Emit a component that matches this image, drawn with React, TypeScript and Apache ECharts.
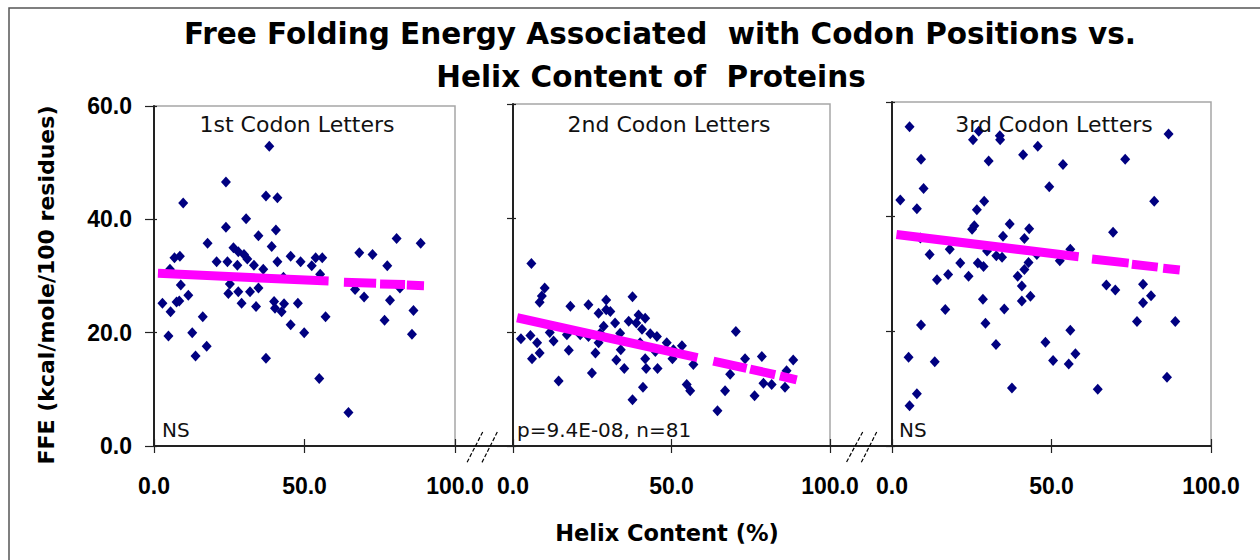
import React, { useEffect, useRef } from "react";
import * as echarts from "echarts";

const titleLines = [
  "Free Folding Energy Associated  with Codon Positions vs.",
  "Helix Content of  Proteins",
];
const panelTitles = ["1st Codon Letters", "2nd Codon Letters", "3rd Codon Letters"];
const panelNotes = ["NS", "p=9.4E-08, n=81", "NS"];
const xAxisTitle = "Helix Content (%)";
const yAxisTitle = "FFE (kcal/mole/100 residues)";
const xRange = [0, 100, 50];
const yRange = [0, 60, 20];

// [helix content %, FFE]
const firstCodon = [
  [38.3, 52.9], [23.9, 46.6], [9.7, 42.9], [37.2, 44.1], [41.0, 43.8], [30.6, 40.1],
  [23.9, 38.6], [40.5, 38.1], [34.7, 37.1], [17.8, 35.8], [39.1, 35.2], [80.6, 36.6],
  [88.6, 35.8], [26.4, 35.0], [28.0, 34.3], [29.9, 33.8], [6.8, 33.2], [8.6, 33.5],
  [68.2, 34.1], [72.6, 33.8], [45.4, 33.5], [20.8, 32.5], [24.4, 32.5], [41.0, 32.5],
  [48.7, 32.5], [53.7, 33.2], [55.9, 33.2], [27.7, 31.9], [33.2, 31.9], [36.3, 31.2],
  [52.4, 31.8], [77.5, 31.8], [5.3, 31.2], [55.2, 30.3], [25.2, 28.6], [34.7, 27.9],
  [8.9, 28.4], [31.9, 27.2], [24.7, 26.9], [28.0, 27.2], [66.8, 27.6], [81.7, 27.9],
  [11.4, 26.6], [69.8, 26.3], [7.5, 25.4], [8.4, 25.6], [2.8, 25.2], [29.1, 25.2],
  [39.9, 25.5], [43.2, 25.1], [47.8, 25.2], [78.4, 25.7], [33.9, 24.6], [40.2, 24.3],
  [42.4, 23.7], [5.5, 23.7], [86.2, 23.9], [16.2, 22.8], [57.0, 22.8], [76.6, 22.2],
  [45.4, 21.4], [12.7, 20.0], [4.8, 19.4], [49.9, 20.0], [85.7, 19.7], [17.5, 17.6],
  [13.8, 15.9], [37.2, 15.5], [54.9, 11.9], [64.6, 5.9], [31.0, 33.0], [43.0, 29.8],
];

const secondCodon = [
  [5.8, 32.0], [10.0, 27.7], [9.1, 26.3], [8.4, 25.2], [18.1, 24.5], [23.8, 24.8],
  [29.4, 25.6], [27.0, 23.3], [29.4, 23.9], [30.7, 23.6], [37.7, 26.2], [39.6, 23.0],
  [41.7, 22.4], [36.5, 21.9], [38.9, 21.6], [40.7, 20.5], [43.3, 19.7], [32.2, 21.6],
  [28.6, 21.0], [33.8, 19.8], [11.6, 19.9], [2.5, 18.8], [5.5, 19.4], [7.6, 18.1],
  [8.4, 16.3], [6.0, 15.3], [12.8, 18.4], [17.0, 19.5], [21.2, 19.5], [26.0, 16.3],
  [17.6, 16.8], [27.0, 18.1], [34.0, 16.9], [32.6, 15.1], [35.1, 13.6], [41.7, 15.3],
  [42.0, 13.6], [45.6, 13.6], [44.9, 16.6], [48.5, 18.1], [53.3, 17.6], [50.3, 15.3],
  [56.9, 14.3], [54.8, 10.8], [55.9, 9.7], [41.0, 10.3], [37.7, 8.1], [14.4, 11.4],
  [24.9, 12.8], [64.5, 6.2], [66.9, 9.7], [68.5, 12.6], [70.3, 20.1], [73.2, 15.3],
  [76.2, 8.8], [78.5, 15.7], [79.0, 11.0], [81.6, 10.8], [86.3, 13.2], [85.8, 10.3],
  [88.4, 15.1], [23.8, 19.2], [45.4, 19.2], [40.1, 18.1], [27.5, 19.8], [50.6, 16.9],
];

const thirdCodon = [
  [5.5, 55.7], [27.2, 54.9], [25.4, 53.4], [33.8, 54.1], [33.9, 53.4], [45.7, 52.3],
  [41.1, 50.8], [86.7, 54.4], [9.1, 50.0], [30.3, 49.7], [53.6, 49.1], [73.1, 50.0],
  [9.9, 44.9], [49.3, 45.2], [2.6, 42.9], [7.8, 41.4], [28.9, 42.7], [26.6, 41.2],
  [82.2, 42.7], [25.8, 38.4], [25.1, 37.8], [36.9, 38.7], [43.0, 37.9], [34.8, 36.6],
  [41.5, 36.2], [69.3, 37.3], [8.9, 36.3], [18.1, 34.3], [11.8, 33.4], [29.8, 34.0],
  [32.7, 33.2], [34.5, 32.9], [45.4, 33.4], [55.9, 34.3], [52.6, 32.3], [21.4, 31.9],
  [26.9, 31.9], [28.7, 31.3], [42.8, 32.0], [41.5, 30.8], [24.0, 29.6], [17.6, 29.9],
  [14.1, 29.0], [39.4, 29.6], [40.7, 27.9], [67.2, 28.1], [70.0, 27.2], [78.7, 28.2],
  [81.2, 26.2], [78.7, 25.0], [28.5, 25.6], [40.7, 25.3], [43.4, 26.1], [16.7, 23.8],
  [35.2, 23.9], [29.3, 21.4], [9.1, 21.1], [55.9, 20.2], [76.8, 21.7], [88.8, 21.7],
  [32.6, 17.7], [48.1, 18.1], [5.2, 15.5], [13.4, 14.7], [50.5, 14.9], [55.4, 14.3],
  [57.5, 16.1], [37.6, 10.1], [64.5, 9.9], [86.2, 12.0], [7.8, 9.1], [5.5, 7.0],
];

// trend-line pieces: [[x0, y0], [x1, y1]]
const firstTrend = [
  [[1.3, 30.5], [58.0, 29.1]],
  [[63.1, 28.9], [73.8, 28.7]],
  [[75.1, 28.6], [83.4, 28.5]],
  [[84.0, 28.4], [89.7, 28.3]],
];
const secondTrend = [
  [[1.3, 22.5], [58.2, 15.5]],
  [[63.2, 14.9], [73.7, 13.6]],
  [[74.8, 13.5], [82.7, 12.5]],
  [[84.2, 12.3], [89.5, 11.6]],
];
const thirdTrend = [
  [[1.4, 36.9], [58.5, 33.0]],
  [[62.7, 32.6], [74.2, 31.9]],
  [[75.2, 31.7], [83.3, 31.2]],
  [[85.0, 31.0], [90.2, 30.7]],
];

const panelData = [firstCodon, secondCodon, thirdCodon];
const panelTrends = [firstTrend, secondTrend, thirdTrend];

const grids = [
  { left: 154, top: 106, width: 301, height: 340 },
  { left: 513, top: 104, width: 317, height: 342 },
  { left: 892, top: 102, width: 319, height: 344 },
];
const titleX = [297, 669, 1054];
const noteX = [162, 517, 899];

export default function App() {
  const ref = useRef<HTMLDivElement>(null);
  useEffect(() => {
    if (!ref.current) return;
    const chart = echarts.init(ref.current, null, { renderer: "svg" });
    const axisColor = "#222";
    const xAxis: any[] = [];
    const yAxis: any[] = [];
    const series: any[] = [];
    grids.forEach((g, i) => {
      xAxis.push({
        gridIndex: i, type: "value", min: xRange[0], max: xRange[1], interval: xRange[2],
        position: "bottom",
        axisLine: { show: true, lineStyle: { color: axisColor, width: 2 } },
        axisTick: { show: true, inside: false, length: 7, lineStyle: { color: axisColor, width: 1.2 } },
        axisLabel: {
          show: true, showMinLabel: true, showMaxLabel: true,
          formatter: (v: number) => v.toFixed(1),
          fontFamily: "Liberation Sans", fontWeight: "bold", fontSize: 23, color: "#000", margin: 28,
        },
        splitLine: { show: false },
      });
      xAxis.push({
        gridIndex: i, type: "value", min: xRange[0], max: xRange[1], interval: xRange[2],
        position: "bottom",
        axisLine: { show: false },
        axisTick: { show: true, inside: true, length: 7, lineStyle: { color: axisColor, width: 1.2 } },
        axisLabel: { show: false },
        splitLine: { show: false },
      });
      yAxis.push({
        gridIndex: i, type: "value", min: yRange[0], max: yRange[1], interval: yRange[2],
        position: "left",
        axisLine: { show: true, lineStyle: { color: axisColor, width: 2 } },
        axisTick: { show: true, inside: false, length: i === 0 ? 9 : 6, lineStyle: { color: axisColor, width: 1.2 } },
        axisLabel: {
          show: i === 0, showMinLabel: true, showMaxLabel: true,
          formatter: (v: number) => v.toFixed(1),
          fontFamily: "Liberation Sans", fontWeight: "bold", fontSize: 23, color: "#000", margin: 22,
        },
        splitLine: { show: false },
      });
      yAxis.push({
        gridIndex: i, type: "value", min: yRange[0], max: yRange[1], interval: yRange[2],
        position: "left",
        axisLine: { show: false },
        axisTick: { show: true, inside: true, length: 3, lineStyle: { color: axisColor, width: 1.2 } },
        axisLabel: { show: false },
        splitLine: { show: false },
      });
      series.push({
        type: "scatter", xAxisIndex: 2 * i, yAxisIndex: 2 * i,
        symbol: "diamond", symbolSize: [10, 11],
        itemStyle: { color: "#000080", opacity: 1 },
        data: panelData[i], z: 3,
      });
      panelTrends[i].forEach((seg) => {
        series.push({
          type: "line", xAxisIndex: 2 * i, yAxisIndex: 2 * i,
          symbol: "none", data: seg, z: 4,
          lineStyle: { color: "#FF00FF", width: 9, cap: "butt", opacity: 1 },
        });
      });
    });

    const dashStyle = { stroke: "#000", lineWidth: 1.2, lineDash: [4, 2] };
    const graphic: any[] = [
      { type: "rect", shape: { x: 9, y: 8, width: 1400, height: 700 }, style: { fill: "none", stroke: "#555", lineWidth: 1.5 }, z: 100 },
      { type: "line", shape: { x1: 154, y1: 446, x2: 1211, y2: 446 }, style: { stroke: axisColor, lineWidth: 2 }, z: 100 },
      { type: "line", shape: { x1: 482.7, y1: 432, x2: 466.7, y2: 463 }, style: dashStyle, z: 100 },
      { type: "line", shape: { x1: 497.3, y1: 432, x2: 481.7, y2: 463 }, style: dashStyle, z: 100 },
      { type: "line", shape: { x1: 862.7, y1: 432, x2: 846, y2: 463 }, style: dashStyle, z: 100 },
      { type: "line", shape: { x1: 876.7, y1: 432, x2: 861, y2: 463 }, style: dashStyle, z: 100 },
      {
        type: "text", x: 660, y: 34, z: 100,
        style: { text: titleLines[0], fontFamily: "DejaVu Sans", fontWeight: "bold", fontSize: 29.5, fill: "#000", textAlign: "center", textVerticalAlign: "middle" },
      },
      {
        type: "text", x: 651, y: 77, z: 100,
        style: { text: titleLines[1], fontFamily: "DejaVu Sans", fontWeight: "bold", fontSize: 29.5, fill: "#000", textAlign: "center", textVerticalAlign: "middle" },
      },
      {
        type: "text", x: 667, y: 533, z: 100,
        style: { text: xAxisTitle, fontFamily: "DejaVu Sans", fontWeight: "bold", fontSize: 22.5, fill: "#000", textAlign: "center", textVerticalAlign: "middle" },
      },
      {
        type: "text", x: 46, y: 285, rotation: Math.PI / 2, z: 100,
        style: { text: yAxisTitle, fontFamily: "DejaVu Sans", fontWeight: "bold", fontSize: 22, fill: "#000", textAlign: "center", textVerticalAlign: "middle" },
      },
    ];
    panelTitles.forEach((t, i) => {
      graphic.push({
        type: "text", x: titleX[i], y: 124, z: 100,
        style: { text: t, fontFamily: "DejaVu Sans", fontSize: 22, fill: "#111", textAlign: "center", textVerticalAlign: "middle" },
      });
      graphic.push({
        type: "text", x: noteX[i], y: 430, z: 100,
        style: { text: panelNotes[i], fontFamily: "DejaVu Sans", fontSize: 20, fill: "#111", textAlign: "left", textVerticalAlign: "middle" },
      });
    });

    chart.setOption({
      animation: false,
      backgroundColor: "#fff",
      grid: grids.map((g) => ({ ...g, show: true, borderColor: "#a6a6a6", borderWidth: 1.5, backgroundColor: "transparent", containLabel: false })),
      xAxis,
      yAxis,
      series,
      graphic,
    });
    return () => chart.dispose();
  }, []);
  return (
    <div style={{ position: "absolute", left: 0, top: 0, width: 1260, height: 560, background: "#fff" }}>
      <div ref={ref} style={{ width: 1260, height: 560 }} />
    </div>
  );
}
